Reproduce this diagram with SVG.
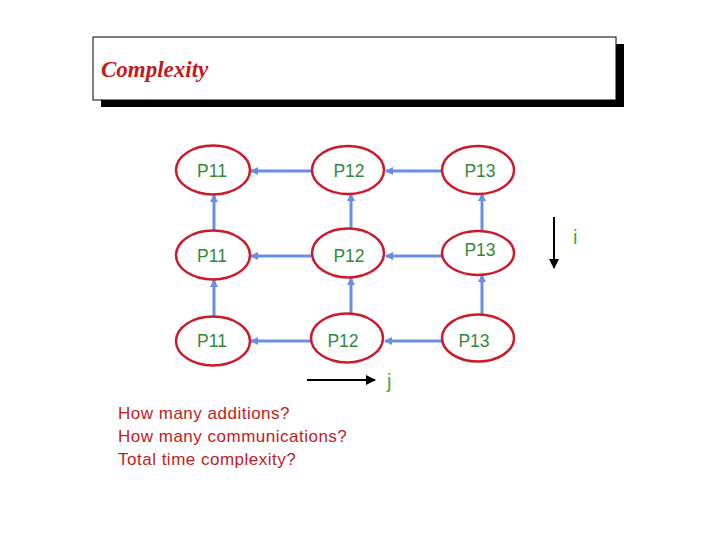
<svg xmlns="http://www.w3.org/2000/svg" width="720" height="540" viewBox="0 0 720 540">
<style>
.node ellipse{fill:#fff;stroke:#cc1a2a;stroke-width:2.5}
.node text{font-family:"Liberation Sans",Arial,sans-serif;font-size:17.5px;fill:#2f8a3a;text-anchor:middle}
.conn line{stroke:#6a8ee6;stroke-width:3}
.axis line{stroke:#000;stroke-width:2}
.q{font-family:"Liberation Sans",Arial,sans-serif;font-size:17px;letter-spacing:0.5px;fill:#c41a1a}
.lbl{font-family:"Liberation Sans",Arial,sans-serif;font-size:20px;fill:#3aa83a}
</style>
<defs>
<marker id="ab" markerWidth="8" markerHeight="8" refX="7" refY="4" orient="auto" markerUnits="userSpaceOnUse"><path d="M0,0 L8,4 L0,8 z" fill="#6a8ee6"/></marker>
<marker id="ak" markerWidth="10" markerHeight="10" refX="9" refY="5" orient="auto" markerUnits="userSpaceOnUse"><path d="M0,0 L10,5 L0,10 z" fill="#000"/></marker>
</defs>
<rect width="720" height="540" fill="#fff"/>
<g id="title">
<rect x="101" y="44" width="523" height="63" fill="#000"/>
<rect x="93" y="37" width="523" height="63" fill="#fff" stroke="#000" stroke-width="1"/>
<text x="101" y="77" font-family="Liberation Serif,Times New Roman,serif" font-style="italic" font-weight="bold" font-size="23" fill="#c41a1a">Complexity</text>
</g>
<g id="connectors" class="conn">
<line x1="443" y1="171" x2="386" y2="171" marker-end="url(#ab)"/>
<line x1="311" y1="171" x2="251" y2="171" marker-end="url(#ab)"/>
<line x1="443" y1="256" x2="386" y2="256" marker-end="url(#ab)"/>
<line x1="311" y1="256" x2="251" y2="256" marker-end="url(#ab)"/>
<line x1="443" y1="341" x2="385" y2="341" marker-end="url(#ab)"/>
<line x1="311" y1="341" x2="251" y2="341" marker-end="url(#ab)"/>
<line x1="214" y1="231" x2="214" y2="195" marker-end="url(#ab)"/>
<line x1="214" y1="317" x2="214" y2="280" marker-end="url(#ab)"/>
<line x1="351" y1="229" x2="351" y2="194" marker-end="url(#ab)"/>
<line x1="351" y1="314" x2="351" y2="278" marker-end="url(#ab)"/>
<line x1="482" y1="231" x2="482" y2="194" marker-end="url(#ab)"/>
<line x1="482" y1="315" x2="482" y2="275" marker-end="url(#ab)"/>
</g>
<g id="n11a" class="node"><ellipse cx="213" cy="170" rx="37" ry="24.5"/><text x="212" y="177">P11</text></g>
<g id="n12a" class="node"><ellipse cx="348" cy="170" rx="36" ry="24"/><text x="349" y="177">P12</text></g>
<g id="n13a" class="node"><ellipse cx="478" cy="170" rx="36" ry="24"/><text x="480" y="177">P13</text></g>
<g id="n11b" class="node"><ellipse cx="213" cy="255" rx="37" ry="24.5"/><text x="212" y="262">P11</text></g>
<g id="n12b" class="node"><ellipse cx="348" cy="253" rx="36" ry="24.5"/><text x="349" y="262">P12</text></g>
<g id="n13b" class="node"><ellipse cx="478" cy="253" rx="36" ry="22"/><text x="480" y="256">P13</text></g>
<g id="n11c" class="node"><ellipse cx="213" cy="341" rx="37" ry="24.5"/><text x="212" y="347">P11</text></g>
<g id="n12c" class="node"><ellipse cx="347" cy="338" rx="36" ry="24.5"/><text x="343" y="347">P12</text></g>
<g id="n13c" class="node"><ellipse cx="478" cy="338" rx="36" ry="23.5"/><text x="474" y="347">P13</text></g>
<g id="axes" class="axis">
<line x1="307" y1="380" x2="375" y2="380" marker-end="url(#ak)"/>
<line x1="554" y1="217" x2="554" y2="268" marker-end="url(#ak)"/>
</g>
<text class="lbl" x="387" y="388">j</text>
<text class="lbl" x="573" y="244">i</text>
<g id="questions">
<text class="q" x="118" y="419">How many additions?</text>
<text class="q" x="118" y="442">How many communications?</text>
<text class="q" x="118" y="465">Total time complexity?</text>
</g>
</svg>
